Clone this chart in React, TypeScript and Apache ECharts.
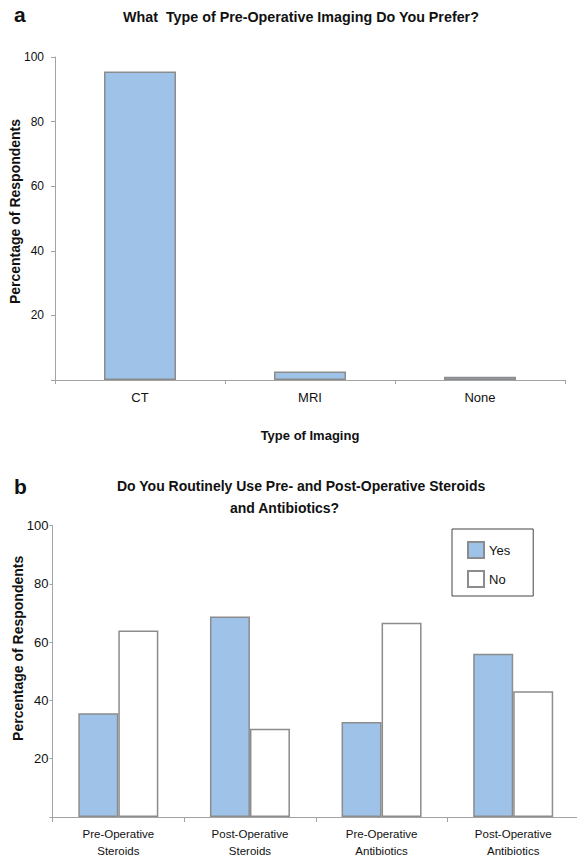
import React, { useEffect, useRef } from "react";
import * as echarts from "echarts";

const imagingCategories = ["CT", "MRI", "None"];
const imagingValues = [95.5, 2.6, 1.0];

const usageCategories = [
  "Pre-Operative\nSteroids",
  "Post-Operative\nSteroids",
  "Pre-Operative\nAntibiotics",
  "Post-Operative\nAntibiotics",
];
const yesValues = [35.6, 68.8, 32.6, 56.0];
const noValues = [64.0, 30.3, 66.7, 43.2];

const titleA = "What  Type of Pre-Operative Imaging Do You Prefer?";
const titleB1 = "Do You Routinely Use Pre- and Post-Operative Steroids";
const titleB2 = "and Antibiotics?";
const yName = "Percentage of Respondents";
const xNameA = "Type of Imaging";

const FONT = "'Liberation Sans', Arial, Helvetica, sans-serif";
const TEXT = "#111111";
const AXIS = "#a3a3a3";
const BLUE = "#9fc3e8";
const BORDER = "#8c8c8c";

export default function App() {
  const ref = useRef<HTMLDivElement>(null);

  useEffect(() => {
    if (!ref.current) return;
    const chart = echarts.init(ref.current, undefined, { renderer: "svg" });
    const hideZero = (v: number) => (v === 0 ? "" : String(v));
    chart.setOption({
      animation: false,
      backgroundColor: "#ffffff",
      textStyle: { fontFamily: FONT, color: TEXT },
      title: [
        {
          text: titleA,
          left: 123,
          top: 10,
          padding: 0,
          textStyle: { fontSize: 14.3, fontWeight: "bold", color: TEXT, fontFamily: FONT },
        },
        {
          text: titleB1,
          left: 117,
          top: 479,
          padding: 0,
          textStyle: { fontSize: 14, fontWeight: "bold", color: TEXT, fontFamily: FONT },
        },
        {
          text: titleB2,
          left: 230,
          top: 501,
          padding: 0,
          textStyle: { fontSize: 14, fontWeight: "bold", color: TEXT, fontFamily: FONT },
        },
      ],
      graphic: [
        {
          type: "text",
          x: 14,
          y: 14,
          style: { text: "a", font: `bold 21px ${FONT}`, fill: TEXT, align: "left", verticalAlign: "middle" },
        },
        {
          type: "text",
          x: 14,
          y: 486,
          style: { text: "b", font: `bold 21px ${FONT}`, fill: TEXT, align: "left", verticalAlign: "middle" },
        },
      ],
      legend: {
        data: ["Yes", "No"],
        orient: "vertical",
        left: 452,
        top: 529,
        padding: [12, 23, 8, 15],
        itemWidth: 16,
        itemHeight: 16,
        itemGap: 11,
        borderColor: "#444444",
        borderWidth: 1,
        icon: "rect",
        textStyle: { fontSize: 13, color: TEXT, fontFamily: FONT, lineHeight: 16 },
      },
      grid: [
        { left: 55, top: 57, width: 510, height: 323, outerBoundsMode: "none", containLabel: false },
        { left: 52.5, top: 525.7, width: 526.5, height: 291.3, outerBoundsMode: "none", containLabel: false },
      ],
      xAxis: [
        {
          type: "category",
          gridIndex: 0,
          data: imagingCategories,
          name: xNameA,
          nameLocation: "middle",
          nameGap: 49,
          nameMoveOverlap: false,
          nameTextStyle: { fontSize: 13, fontWeight: "bold", color: TEXT, fontFamily: FONT },
          axisLine: { lineStyle: { color: AXIS, width: 1 } },
          axisTick: { show: true, length: 4, lineStyle: { color: AXIS } },
          axisLabel: { fontSize: 13, color: TEXT, margin: 10, lineHeight: 14, fontFamily: FONT },
        },
        {
          type: "category",
          gridIndex: 1,
          data: usageCategories,
          axisLine: { lineStyle: { color: AXIS, width: 1 } },
          axisTick: { show: true, length: 5, lineStyle: { color: AXIS } },
          axisLabel: { fontSize: 11.5, color: TEXT, margin: 9, lineHeight: 16.5, fontFamily: FONT },
        },
      ],
      yAxis: [
        {
          type: "value",
          gridIndex: 0,
          min: 0,
          max: 100,
          interval: 20,
          name: yName,
          nameLocation: "middle",
          nameGap: 33,
          nameMoveOverlap: false,
          nameTextStyle: {
            fontSize: 14,
            fontWeight: "bold",
            color: TEXT,
            fontFamily: FONT,
            padding: [0, 0, 0, 14],
          },
          splitLine: { show: false },
          axisLine: { show: true, lineStyle: { color: AXIS, width: 1 } },
          axisTick: { show: true, length: 4, lineStyle: { color: AXIS } },
          axisLabel: { fontSize: 12, color: TEXT, margin: 11, formatter: hideZero, fontFamily: FONT },
        },
        {
          type: "value",
          gridIndex: 1,
          min: 0,
          max: 100,
          interval: 20,
          name: yName,
          nameLocation: "middle",
          nameGap: 28,
          nameMoveOverlap: false,
          nameTextStyle: {
            fontSize: 14,
            fontWeight: "bold",
            color: TEXT,
            fontFamily: FONT,
            padding: [0, 0, 0, 46],
          },
          splitLine: { show: false },
          axisLine: { show: true, lineStyle: { color: AXIS, width: 1 } },
          axisTick: { show: true, length: 3, lineStyle: { color: AXIS } },
          axisLabel: { fontSize: 13, color: TEXT, margin: 4, formatter: hideZero, fontFamily: FONT },
        },
      ],
      series: [
        {
          name: "Imaging",
          type: "bar",
          xAxisIndex: 0,
          yAxisIndex: 0,
          data: imagingValues,
          barWidth: 72,
          itemStyle: { color: BLUE, borderColor: BORDER, borderWidth: 1.5 },
        },
        {
          name: "Yes",
          type: "bar",
          xAxisIndex: 1,
          yAxisIndex: 1,
          data: yesValues,
          barWidth: 40,
          barGap: "0%",
          itemStyle: { color: BLUE, borderColor: BORDER, borderWidth: 1.5 },
        },
        {
          name: "No",
          type: "bar",
          xAxisIndex: 1,
          yAxisIndex: 1,
          data: noValues,
          barWidth: 40,
          barGap: "0%",
          itemStyle: { color: "#ffffff", borderColor: BORDER, borderWidth: 1.5 },
        },
      ],
    });
    return () => chart.dispose();
  }, []);

  return (
    <div
      ref={ref}
      style={{ position: "fixed", left: 0, top: 0, width: 577, height: 858, background: "#fff" }}
    />
  );
}
